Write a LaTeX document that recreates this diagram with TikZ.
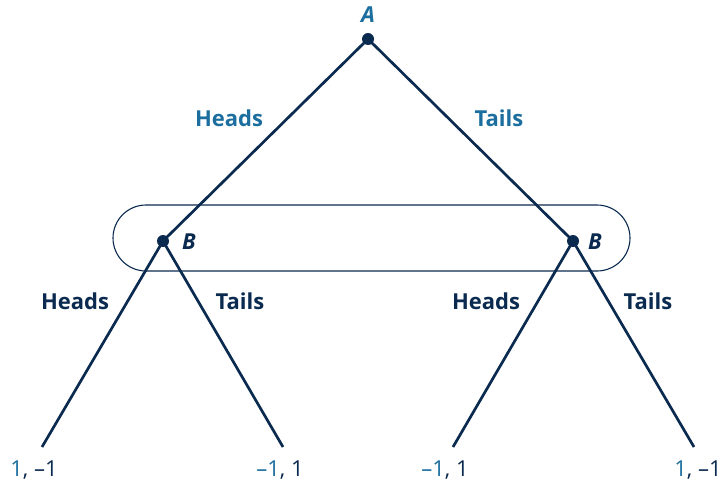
\documentclass[tikz,border=0pt]{standalone}
\usepackage{fontspec}
\setmainfont{Open Sans}
\definecolor{navy}{HTML}{0B2A4F}
\definecolor{tblue}{HTML}{1B6E9E}
\begin{document}
\begin{tikzpicture}[x=1pt,y=-1pt,
  edge/.style={draw=navy,line width=2.7pt},
  dot/.style={circle,fill=navy,inner sep=0pt,minimum size=12pt},
  lblA/.style={font=\fontsize{22}{24}\selectfont\bfseries,text=tblue},
  lblB/.style={font=\fontsize{22}{24}\selectfont\bfseries,text=navy},
  pname/.style={font=\fontsize{22}{24}\selectfont\bfseries\itshape},
  pay/.style={font=\fontsize{22}{24}\selectfont,text=navy,anchor=base}]
\useasboundingbox (0,0) rectangle (722,485);
\draw[navy,line width=1.1pt,rounded corners=33pt] (113,205) rectangle (630,271);
\node[dot] (A) at (368,39) {};
\node[dot] (B1) at (163,241) {};
\node[dot] (B2) at (573,241) {};
\coordinate (L1) at (42,447);
\coordinate (L2) at (283,447);
\coordinate (L3) at (453,447);
\coordinate (L4) at (694,447);
\draw[edge] (A.center) -- (B1.center);
\draw[edge] (A.center) -- (B2.center);
\draw[edge] (B1.center) -- (L1);
\draw[edge] (B1.center) -- (L2);
\draw[edge] (B2.center) -- (L3);
\draw[edge] (B2.center) -- (L4);
\node[pname,text=tblue] (tA) at (368,15) {A};
\node[pname,text=navy] (tB1) at (189,242) {B};
\node[pname,text=navy] (tB2) at (595,242) {B};
\node[lblA] (h0) at (229,118) {Heads};
\node[lblA] (t0) at (499,118) {Tails};
\node[lblB] (h1) at (75,301) {Heads};
\node[lblB] (t1) at (240,301) {Tails};
\node[lblB] (h2) at (486,301) {Heads};
\node[lblB] (t2) at (648,301) {Tails};
\node[pay] (p1) at (34,476) {\textcolor{tblue}{1}, –1};
\node[pay] (p2) at (280,476) {\textcolor{tblue}{–1}, 1};
\node[pay] (p3) at (445,476) {\textcolor{tblue}{–1}, 1};
\node[pay] (p4) at (698,476) {\textcolor{tblue}{1}, –1};
\end{tikzpicture}
\end{document}
